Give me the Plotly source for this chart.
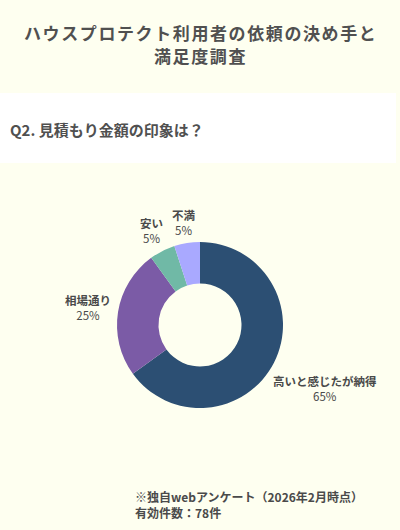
import math
import plotly.graph_objects as go

categories = ["高いと感じたが納得", "相場通り", "安い", "不満"]
values = [65, 25, 5, 5]
colors = ["#2C4F73", "#7B5BA6", "#70B9A6", "#A9A9FF"]

W, H = 400, 530
FONT = "Noto Sans CJK JP"
TXT = "#4A4A4A"

cx, cy, r = 200, 325, 83

fig = go.Figure(go.Pie(
    labels=categories,
    values=values,
    hole=0.5,
    sort=False,
    direction="clockwise",
    rotation=0,
    marker=dict(colors=colors, line=dict(width=0)),
    textinfo="none",
    hoverinfo="label+percent",
    showlegend=False,
    domain=dict(x=[(cx - r) / W, (cx + r) / W], y=[(H - cy - r) / H, (H - cy + r) / H]),
))

# outside labels placed along each slice's mid-angle (derived from the data)
LFS = 11.5
total = sum(values)
annots = []
cum = 0
for lab, v in zip(categories, values):
    mid = (cum + v / 2) / total * 2 * math.pi
    cum += v
    dx, dy = math.sin(mid), -math.cos(mid)
    pct = f"{round(v / total * 100)}%"
    w = max(len(lab) * LFS, len(pct) * LFS * 0.6)
    h = 2 * LFS * 1.25
    d = r + 5 + abs(dx) * w / 2 + abs(dy) * h / 2
    px, py = cx + dx * d, cy + dy * d
    annots.append(dict(
        text=f"<b>{lab}</b><br>{pct}", xref="paper", yref="paper",
        x=px / W, y=1 - py / H, xanchor="center", yanchor="middle", showarrow=False,
        font=dict(family=FONT, size=LFS, color=TXT), align="center"))

title_lines = ["ハウスプロテクト利用者の依頼の決め手と", "満足度調査"]
for i, line in enumerate(title_lines):
    annots.append(dict(
        text=f"<b><span style='letter-spacing:1.6px'>{line}</span></b>",
        xref="paper", yref="paper",
        x=0.5, y=1 - (33 + 23 * i) / H, xanchor="center", yanchor="middle", showarrow=False,
        font=dict(family=FONT, size=17, color="#505050", weight=900), align="center"))

annots += [
    dict(text="<b>Q2. 見積もり金額の印象は？</b>", xref="paper", yref="paper",
         x=8 / W, y=1 - 130 / H, xanchor="left", yanchor="middle", showarrow=False,
         font=dict(family=FONT, size=15, color="#505050", weight=900)),
    dict(text="<b>※独自webアンケート（2026年2月時点）<br>有効件数：78件</b>", xref="paper", yref="paper",
         x=133 / W, y=1 - 504 / H, xanchor="left", yanchor="middle", showarrow=False,
         font=dict(family=FONT, size=12, color=TXT), align="left"),
]

fig.update_layout(
    width=W, height=H,
    margin=dict(l=0, r=0, t=0, b=0),
    paper_bgcolor="#FEFFF0",
    plot_bgcolor="#FEFFF0",
    font=dict(family=FONT),
    shapes=[dict(type="rect", xref="paper", yref="paper", x0=0, x1=396 / W,
                 y0=1 - 163 / H, y1=1 - 93 / H, fillcolor="#FFFFFF", line=dict(width=0), layer="below")],
    annotations=annots,
)

fig.write_html("out.html", config={"displayModeBar": False},
               post_script="document.body.style.margin='0';document.body.style.background='#FEFFF0';")
